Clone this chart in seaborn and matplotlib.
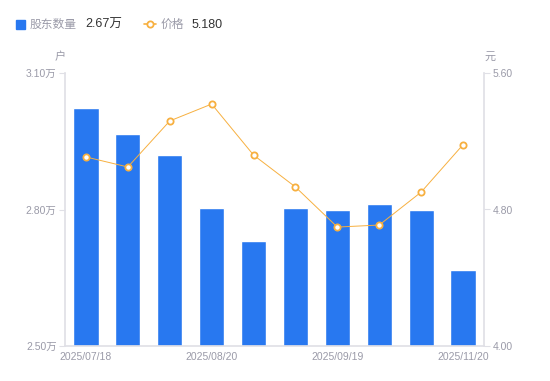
import matplotlib
matplotlib.use("Agg")
import matplotlib.pyplot as plt
import seaborn as sns
import numpy as np
import pandas as pd
from matplotlib.lines import Line2D
from matplotlib.patches import Rectangle

dates = ['2025/07/18', 'd2', 'd3', '2025/08/20', 'd5', 'd6', '2025/09/19', 'd8', 'd9', '2025/11/20']
tick_labels = ['2025/07/18', '', '', '2025/08/20', '', '', '2025/09/19', '', '', '2025/11/20']
holders = [3.023, 2.965, 2.919, 2.804, 2.730, 2.804, 2.800, 2.813, 2.798, 2.667]  # 万户
price = [5.108, 5.049, 5.319, 5.418, 5.119, 4.932, 4.697, 4.709, 4.902, 5.180]
left_ticks = [2.50, 2.80, 3.10]
right_ticks = [4.00, 4.80, 5.60]

sns.set_theme(style="white")
plt.rcParams['font.family'] = ['Liberation Sans', 'Noto Sans CJK SC', 'DejaVu Sans']
CJK = ['Noto Sans CJK SC', 'DejaVu Sans']

BLUE = '#2878f0'
ORANGE = '#f7b040'
GREY = '#9a9aa8'
AXC = '#e0e0e6'

fig = plt.figure(figsize=(5.5, 3.81), dpi=100)
ax = fig.add_axes([65/550, 35/381, (484-65)/550, (346-73)/381])

df = pd.DataFrame({'date': dates, 'holders': holders, 'price': price, 'pos': np.arange(len(dates))})
sns.barplot(data=df, x='date', y='holders', color=BLUE, width=0.6, saturation=1, ax=ax)
ax.set_ylim(2.50, 3.10)
ax.set_xlim(-0.5, len(dates) - 0.5)
ax.set_yticks(left_ticks)
ax.set_yticklabels([f'{v:.2f}万' for v in left_ticks])
ax.set_xticks(range(len(dates)))
ax.set_xticklabels(tick_labels)
ax.set_xlabel('')
ax.set_ylabel('')

ax2 = ax.twinx()
sns.lineplot(data=df, x='pos', y='price', color=ORANGE, lw=0.7, marker='o', markersize=4.5,
             markerfacecolor='white', markeredgecolor=ORANGE, markeredgewidth=1.3, ax=ax2)
ax2.set_ylim(4.00, 5.60)
ax2.set_yticks(right_ticks)
ax2.set_yticklabels([f'{v:.2f}' for v in right_ticks])
ax2.set_xlabel('')
ax2.set_ylabel('')
ax2.set_xlim(-0.5, len(dates) - 0.5)

for a in (ax, ax2):
    for s in a.spines.values():
        s.set_visible(False)
    a.grid(False)
ax.spines['left'].set_visible(True)
ax.spines['left'].set_color(AXC)
ax.spines['bottom'].set_visible(True)
ax.spines['bottom'].set_color(AXC)
ax2.spines['right'].set_visible(True)
ax2.spines['right'].set_color(AXC)

ax.tick_params(axis='y', colors=AXC, labelcolor=GREY, labelsize=7.5, length=4, width=0.8, pad=2, left=True)
ax.tick_params(axis='x', colors=AXC, labelcolor=GREY, labelsize=7.5, length=0, pad=4)
ax2.tick_params(axis='y', colors=AXC, labelcolor=GREY, labelsize=7.5, length=4, width=0.8, pad=2, right=True)

fig.text(60/550, 1 - 57/381, '户', color=GREY, fontsize=8, ha='center', va='center', family=CJK)
fig.text(490/550, 1 - 57/381, '元', color=GREY, fontsize=8, ha='center', va='center', family=CJK)

# legend
BASE = 1 - 28/381
fig.patches.append(Rectangle((16/550, 1 - 29/381), 9/550, 9/381, transform=fig.transFigure,
                             color=BLUE, figure=fig))
fig.text(30/550, BASE, '股东数量', color=GREY, fontsize=8.5, va='baseline', family=CJK)
fig.text(85/550, BASE, '2.67万', color='#333333', fontsize=9, va='baseline')
fig.lines.append(Line2D([144/550, 156/550], [1 - 24/381, 1 - 24/381], transform=fig.transFigure,
                        color=ORANGE, lw=1.2, figure=fig))
fig.lines.append(Line2D([150/550], [1 - 24/381], transform=fig.transFigure, color=ORANGE,
                        marker='o', markersize=4.5, markerfacecolor='white', markeredgewidth=1.3,
                        linestyle='none', figure=fig))
fig.text(161/550, BASE, '价格', color=GREY, fontsize=8.5, va='baseline', family=CJK)
fig.text(192/550, BASE, '5.180', color='#333333', fontsize=9, va='baseline')

fig.savefig('out.png', dpi=100, facecolor='white')
